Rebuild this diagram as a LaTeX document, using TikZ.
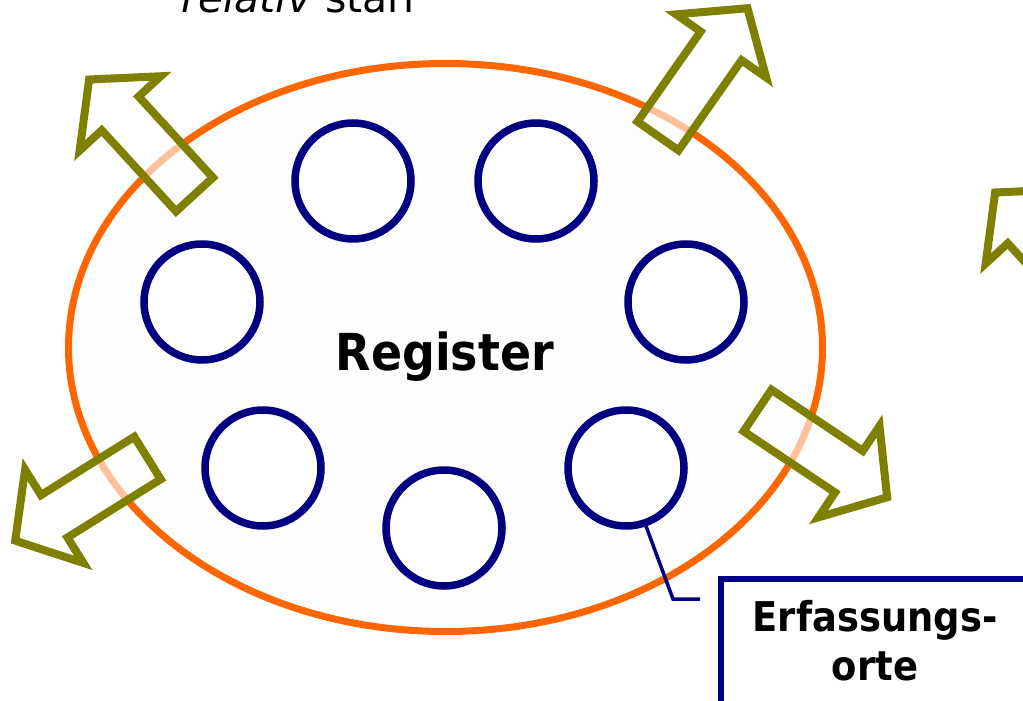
\documentclass[tikz,border=0pt]{standalone}
\usepackage{fontspec}
\setmainfont{DejaVu Sans}
\newfontfamily\boldcond{DejaVu Sans Condensed}[BoldFont={DejaVu Sans Condensed Bold}]
\definecolor{ringorange}{HTML}{FF6600}
\definecolor{sitenavy}{HTML}{000080}
\definecolor{arrowolive}{HTML}{808000}
\tikzset{
  site/.style={circle, draw=sitenavy, line width=7.5pt, fill=white, minimum size=116pt, inner sep=0pt},
  arrowline/.style={draw=arrowolive, line width=8pt, line join=miter, fill=white, fill opacity=0.6},
  blockarrow/.pic={
    \path[arrowline] (0,25) -- (110,25) -- (110,55) -- (156,0) -- (110,-55) -- (110,-25) -- (0,-25) -- cycle;
  },
  bigword/.style={font=\boldcond\bfseries\fontsize{51}{60}\selectfont, inner sep=0pt, anchor=base},
  labelword/.style={font=\boldcond\bfseries\fontsize{41}{49}\selectfont, inner sep=0pt, anchor=base},
}
\begin{document}
\begin{tikzpicture}[x=1pt, y=1pt]
\useasboundingbox (0,0) rectangle (1023,-701);
\clip (0,0) rectangle (1023,-701);

% heading line, partly above the frame
\node[font=\fontsize{41}{49}\selectfont, inner sep=0pt, anchor=base west] (title) at (181,-13) {\textit{relativ} starr};

% register outline
\path[draw=ringorange, line width=7pt, fill=black!0.6] (445.5,-347.5) ellipse [x radius=377, y radius=284];

% capture sites
\node[site] (c1) at (353,-181) {};
\node[site] (c2) at (536,-181) {};
\node[site] (c3) at (202,-302) {};
\node[site] (c4) at (686,-302) {};
\node[site] (c5) at (263,-468) {};
\node[site] (c6) at (444,-528) {};
\node[site] (c7) at (626,-468) {};

\node[bigword] (reg) at (445,-370) {Register};

% outgoing arrows
\pic[rotate=55] at (658,-136) {blockarrow};
\pic[rotate=132.5] at (194.5,-194.5) {blockarrow};
\pic[rotate=212] at (147.5,-458) {blockarrow};
\pic[rotate=-33.8] at (757.5,-410.5) {blockarrow};
\pic[rotate=132.5] at (1100.5,-307.5) {blockarrow};

% label box with leader
\node[draw=sitenavy, line width=5.5pt, fill=white, anchor=north west, minimum width=340pt, minimum height=160pt] (box) at (718,-576) {};
\coordinate (lead) at (700,-599);
\draw[sitenavy, line width=3.5pt] (c7.-71) -- (673,-599) -- (lead);
\node[labelword] (lab1) at (875,-631) {Erfassungs-};
\node[labelword] (lab2) at (875,-680) {orte};
\end{tikzpicture}
\end{document}
